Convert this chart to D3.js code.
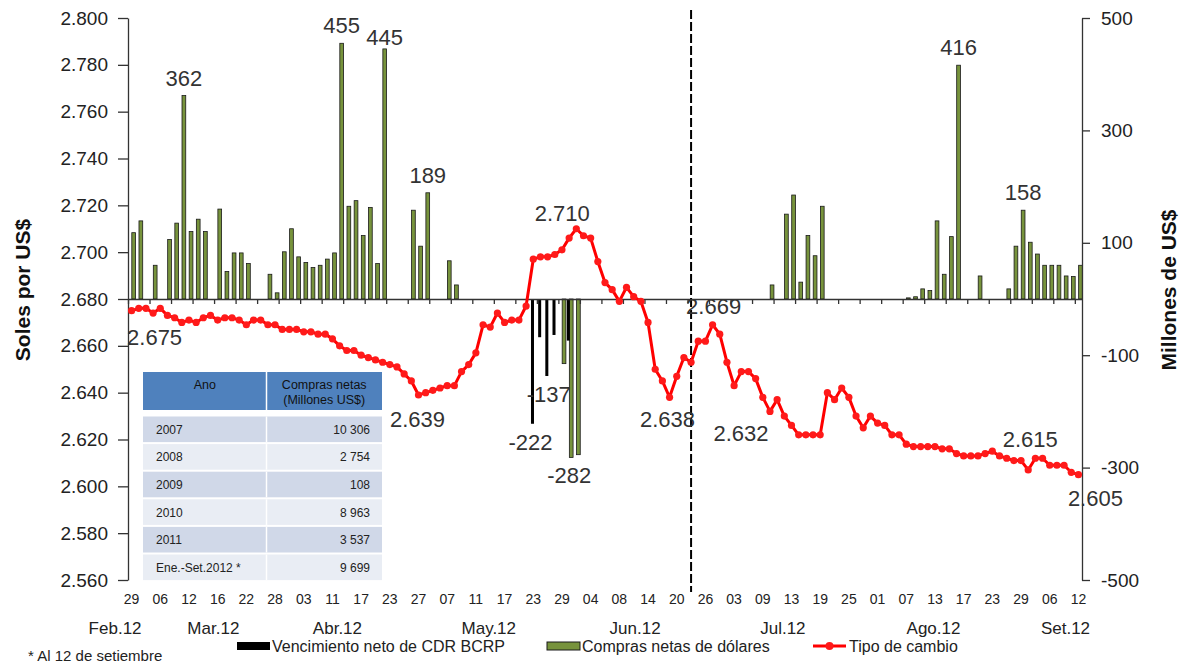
<!DOCTYPE html>
<html><head><meta charset="utf-8">
<script src="https://cdn.jsdelivr.net/npm/d3@7"></script>
<style>
body{margin:0;background:#fff}
svg{display:block}
text{font-family:"Liberation Sans",Arial,sans-serif}
</style>
</head><body>
<svg id="c" width="1181" height="663"></svg>
<script>
// ---------- DATA ----------
const tickLabels = ["29","06","12","16","22","28","03","11","17","23","27","07","11","17","23","29","04","08","14","20","26","03","09","13","19","25","01","07","13","17","23","29","06","12"];
const monthLabels = ["Feb.12","Mar.12","Abr.12","May.12","Jun.12","Jul.12","Ago.12","Set.12"];
const monthCenterIdx = [-2.3, 11.4, 28.7, 49.8, 70.2, 90.8, 111.8, 130.2];

const tipoCambio = [
2.675,2.676,2.676,2.674,2.676,2.673,2.672,2.670,2.671,2.670,
2.672,2.673,2.671,2.672,2.672,2.671,2.669,2.671,2.671,2.669,
2.669,2.667,2.667,2.667,2.666,2.666,2.665,2.665,2.663,2.660,
2.658,2.658,2.656,2.655,2.654,2.653,2.652,2.651,2.648,2.645,
2.639,2.640,2.641,2.642,2.643,2.643,2.649,2.652,2.657,2.669,
2.668,2.674,2.670,2.671,2.671,2.677,2.697,2.698,2.698,2.699,
2.701,2.706,2.710,2.707,2.706,2.696,2.687,2.684,2.679,2.685,
2.681,2.679,2.670,2.650,2.645,2.638,2.647,2.655,2.653,2.662,
2.662,2.669,2.665,2.653,2.643,2.649,2.649,2.646,2.638,2.632,
2.637,2.630,2.626,2.622,2.622,2.622,2.622,2.640,2.637,2.642,
2.638,2.630,2.625,2.630,2.627,2.626,2.622,2.622,2.618,2.617,
2.617,2.617,2.617,2.616,2.616,2.614,2.613,2.613,2.613,2.614,
2.615,2.613,2.612,2.611,2.611,2.607,2.612,2.612,2.609,2.609,
2.609,2.606,2.605];

const comprasNetas = [
118,139,0,60,0,106,135,362,120,142,
120,0,160,49,82,82,63,0,0,44,
11,84,125,75,65,56,60,71,82,455,
165,175,113,163,63,445,0,0,0,158,
94,189,0,0,68,25,0,0,0,0,
0,0,0,0,0,0,0,0,0,0,
-115,-282,-277,0,0,0,0,0,0,0,
0,0,0,0,0,0,0,0,0,0,
0,0,0,0,0,0,0,0,0,25,
0,151,185,30,113,77,165,0,0,0,
0,0,0,0,0,0,0,0,2,4,
18,15,139,44,111,416,0,0,41,0,
0,0,18,94,158,101,80,60,60,60,
41,40,60];

const vencimientoCDR = new Array(133).fill(0);
[[56,-222],[57,-68],[58,-137],[59,-64],[61,-74]].forEach(([i,v]) => vencimientoCDR[i] = v);

const comprasLabelIdx = [7,29,35,41,61,115,124];
const cdrLabelIdx = [56,58];
const lineLabelIdx = [0,40,62,75,81,89,125,132];
const lineLabelText = ["2.675","2.639","2.710","2.638","2.669","2.632","2.615","2.605"];

const tableYears = ["2007","2008","2009","2010","2011","Ene.-Set.2012 *"];
const tableValues = [10306,2754,108,8963,3537,9699];

const leftTicks = [2.560,2.580,2.600,2.620,2.640,2.660,2.680,2.700,2.720,2.740,2.760,2.780,2.800];
const rightTicks = [-500,-300,-100,100,300,500];

// ---------- DRAW ----------
const N = tipoCambio.length;
const svg = d3.select("#c");
const X0 = 128, X1 = 1082, YT = 18, YB = 580;
const loc = d3.formatLocale({decimal:".", thousands:" ", grouping:[3], currency:["",""], minus:"-"});
const fmtInt = loc.format("d");
const fmtSp = loc.format(",d");

const x = d3.scaleBand().domain(d3.range(N)).range([X0, X1]).padding(0);
const step = x.step();
const cx = i => x(i) + step/2;
const xIdx = d3.scaleLinear().domain([0, N]).range([X0, X1]);
const yL = d3.scaleLinear().domain([2.56, 2.80]).range([YB, YT]);
const yR = d3.scaleLinear().domain([-500, 500]).range([YB, YT]);

const txt = "#222";
const lblCol = "#333";

// bars: green (compras)
const gW = step*0.52, gOff = step*0.03;
svg.append("g").selectAll("rect").data(comprasNetas.map((v,i)=>({v,i})).filter(d=>d.v!==0))
  .join("rect")
  .attr("x", d => cx(d.i) + gOff)
  .attr("width", gW)
  .attr("y", d => Math.min(yR(d.v), yR(0)))
  .attr("height", d => Math.abs(yR(d.v) - yR(0)))
  .attr("fill", "#77933c").attr("stroke", "#1a1a1a").attr("stroke-width", 0.8);

// bars: black (CDR)
const bW = step*0.42, bOff = -step*0.32;
svg.append("g").selectAll("rect").data(vencimientoCDR.map((v,i)=>({v,i})).filter(d=>d.v!==0))
  .join("rect")
  .attr("x", d => cx(d.i) + bOff)
  .attr("width", bW)
  .attr("y", d => Math.min(yR(d.v), yR(0)))
  .attr("height", d => Math.abs(yR(d.v) - yR(0)))
  .attr("fill", "#000");

// category axis at zero
const catAxis = svg.append("g").attr("transform", `translate(0,${yR(0)})`)
  .call(d3.axisBottom(xIdx).tickValues(d3.range(0, N+1, 3)).tickFormat("").tickSize(5).tickSizeOuter(0));
catAxis.selectAll("path,line").attr("stroke", "#333").attr("stroke-width", 1.3);

// left axis
const la = svg.append("g").attr("transform", `translate(${X0},0)`)
  .call(d3.axisLeft(yL).tickValues(leftTicks).tickFormat(d3.format(".3f")).tickSize(10).tickSizeOuter(0).tickPadding(10));
la.selectAll("path,line").attr("stroke", "#333").attr("stroke-width", 1.3);
la.selectAll("text").attr("font-size", 19).attr("fill", txt).attr("font-family", "Liberation Sans, Arial, sans-serif");

// right axis
const ra = svg.append("g").attr("transform", `translate(${X1},0)`)
  .call(d3.axisRight(yR).tickValues(rightTicks).tickFormat(fmtInt).tickSize(8).tickSizeOuter(0).tickPadding(11));
ra.selectAll("path,line").attr("stroke", "#333").attr("stroke-width", 1.3);
ra.selectAll("text").attr("font-size", 19).attr("fill", txt).attr("font-family", "Liberation Sans, Arial, sans-serif");

// bottom tick labels
const ba = svg.append("g").attr("transform", `translate(0,${594})`)
  .call(d3.axisBottom(x).tickValues(d3.range(0, N, 4)).tickFormat((d,k)=>tickLabels[k]).tickSize(0).tickPadding(0));
ba.select(".domain").remove();
ba.selectAll("text").attr("font-size", 14).attr("fill", txt).attr("font-family", "Liberation Sans, Arial, sans-serif").attr("dy", "0.71em");

// month labels
svg.append("g").selectAll("text").data(monthLabels).join("text")
  .attr("x", (d,k) => X0 + (monthCenterIdx[k] + 0.5)*step)
  .attr("y", 634).attr("text-anchor", "middle")
  .attr("font-size", 17).attr("fill", txt).text(d => d);

// dashed vertical line
svg.append("line").attr("x1", cx(78)).attr("x2", cx(78)).attr("y1", 10).attr("y2", 592)
  .attr("stroke", "#000").attr("stroke-width", 2).attr("stroke-dasharray", "9,3");

// exchange-rate line
const line = d3.line().x((d,i)=>cx(i)).y(d=>yL(d));
svg.append("path").datum(tipoCambio).attr("d", line)
  .attr("fill", "none").attr("stroke", "#ff0000").attr("stroke-width", 3).attr("stroke-linejoin", "round");
svg.append("g").selectAll("circle").data(tipoCambio).join("circle")
  .attr("cx", (d,i)=>cx(i)).attr("cy", d=>yL(d)).attr("r", 3.6).attr("fill", "#ff1a1a");

// bar data labels
const barLblOff = {7:[0,-10],29:[0,-10],35:[0,-4],41:[0,-10],61:[-2,26],115:[0,-10],124:[0,-10]};
svg.append("g").selectAll("text").data(comprasLabelIdx).join("text")
  .attr("x", i => cx(i) + gOff + gW/2 + barLblOff[i][0])
  .attr("y", i => yR(comprasNetas[i]) + barLblOff[i][1])
  .attr("text-anchor", "middle").attr("font-size", 22).attr("fill", lblCol)
  .text(i => fmtInt(comprasNetas[i]));
const cdrLblOff = {56:[-2,26],58:[2,26]};
svg.append("g").selectAll("text").data(cdrLabelIdx).join("text")
  .attr("x", i => cx(i) + bOff + bW/2 + cdrLblOff[i][0])
  .attr("y", i => yR(vencimientoCDR[i]) + cdrLblOff[i][1])
  .attr("text-anchor", "middle").attr("font-size", 22).attr("fill", lblCol)
  .text(i => fmtInt(vencimientoCDR[i]));

// line data labels
const lineLblOff = [[23,34],[-1,32],[-14,-8],[-2,30],[1,-11],[-29,30],[2,-23],[17,31]];
svg.append("g").selectAll("text").data(lineLabelIdx).join("text")
  .attr("x", (i,k) => cx(i) + lineLblOff[k][0])
  .attr("y", (i,k) => yL(tipoCambio[i]) + lineLblOff[k][1])
  .attr("text-anchor", "middle").attr("font-size", 22).attr("fill", lblCol)
  .text((i,k) => lineLabelText[k]);

// axis titles
svg.append("text").attr("transform", "translate(30,290) rotate(-90)").attr("text-anchor", "middle")
  .attr("font-size", 21).attr("font-weight", "bold").attr("fill", "#111").text("Soles por US$");
svg.append("text").attr("transform", "translate(1176,290) rotate(-90)").attr("text-anchor", "middle")
  .attr("font-size", 21).attr("font-weight", "bold").attr("fill", "#111").text("Millones de US$");

// table
const tX0 = 143, tXm = 266.5, tX1 = 382;
const tg = svg.append("g");
tg.append("rect").attr("x", tX0).attr("y", 372).attr("width", tX1 - tX0).attr("height", 38).attr("fill", "#4f81bd");
tg.append("line").attr("x1", tXm).attr("x2", tXm).attr("y1", 372).attr("y2", 410).attr("stroke", "#fff").attr("stroke-width", 1.5);
tg.append("text").attr("x", (tX0+tXm)/2).attr("y", 389).attr("text-anchor", "middle").attr("font-size", 12.5).attr("fill", "#111").text("Ano");
tg.append("text").attr("x", (tXm+tX1)/2).attr("y", 389).attr("text-anchor", "middle").attr("font-size", 12.5).attr("fill", "#111").text("Compras netas");
tg.append("text").attr("x", (tXm+tX1)/2).attr("y", 404).attr("text-anchor", "middle").attr("font-size", 12.5).attr("fill", "#111").text("(Millones US$)");
const rowH = 27.6, rowTop = 416.5;
tableYears.forEach((yr, r) => {
  const y0 = rowTop + r*rowH;
  tg.append("rect").attr("x", tX0).attr("y", y0).attr("width", tX1 - tX0).attr("height", rowH - 2)
    .attr("fill", r % 2 === 0 ? "#d0d8e8" : "#e9edf4");
  tg.append("line").attr("x1", tXm).attr("x2", tXm).attr("y1", y0).attr("y2", y0 + rowH - 2).attr("stroke", "#fff").attr("stroke-width", 1.5);
  tg.append("text").attr("x", 156).attr("y", y0 + rowH/2 + 3.5).attr("font-size", 12).attr("fill", txt).text(yr);
  tg.append("text").attr("x", 370).attr("y", y0 + rowH/2 + 3.5).attr("text-anchor", "end").attr("font-size", 12).attr("fill", txt).text(fmtSp(tableValues[r]));
});

// legend
const lg = svg.append("g");
lg.append("rect").attr("x", 237).attr("y", 642).attr("width", 33).attr("height", 8).attr("fill", "#000");
lg.append("text").attr("x", 272).attr("y", 652).attr("font-size", 16).attr("fill", txt).text("Vencimiento neto de CDR BCRP");
lg.append("rect").attr("x", 547).attr("y", 642).attr("width", 33).attr("height", 8).attr("fill", "#77933c").attr("stroke", "#1a1a1a").attr("stroke-width", 1);
lg.append("text").attr("x", 582).attr("y", 652).attr("font-size", 16).attr("fill", txt).text("Compras netas de dólares");
lg.append("line").attr("x1", 813).attr("x2", 846).attr("y1", 646).attr("y2", 646).attr("stroke", "#ff0000").attr("stroke-width", 3);
lg.append("circle").attr("cx", 829.5).attr("cy", 646).attr("r", 4).attr("fill", "#ff1a1a");
lg.append("text").attr("x", 849).attr("y", 652).attr("font-size", 16).attr("fill", txt).text("Tipo de cambio");

// footnote
svg.append("text").attr("x", 28).attr("y", 661).attr("font-size", 15).attr("fill", txt).text("* Al 12 de setiembre");
</script>
</body></html>
